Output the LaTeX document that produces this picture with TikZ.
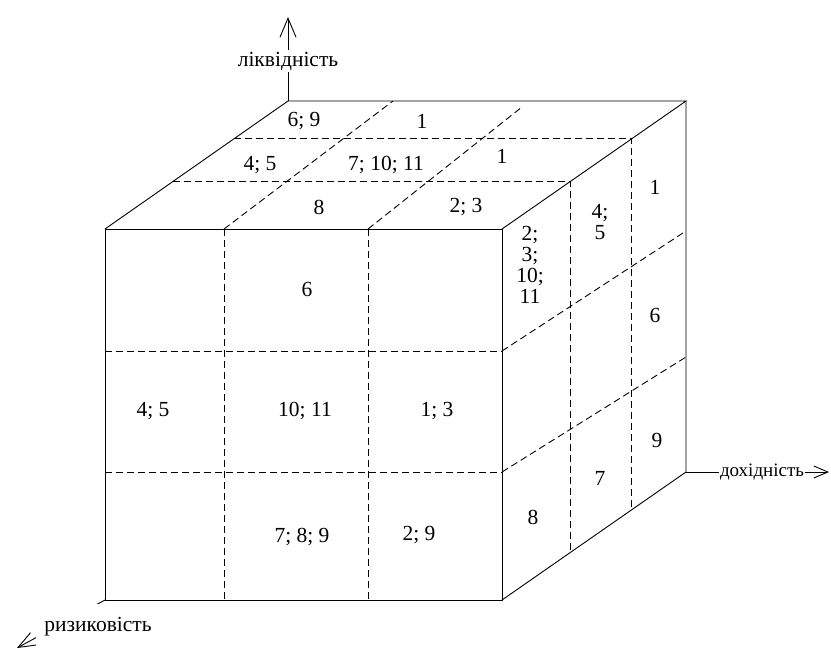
\documentclass[tikz,border=0pt]{standalone}
\usepackage{fontspec}
\setmainfont{Liberation Serif}
\usetikzlibrary{arrows.meta}
\begin{document}
\begin{tikzpicture}[x=1pt,y=-1pt,
  edge/.style={line width=0.9pt},
  gridline/.style={line width=0.9pt, dash pattern=on 7pt off 4pt},
  axis/.style={line width=0.9pt},
  lab/.style={font=\fontsize{21.5}{21}\selectfont, inner sep=0pt, align=center},
  axlab/.style={font=\fontsize{21.5}{23.5}\selectfont, fill=white, inner sep=1.5pt}]
\useasboundingbox (0,0) rectangle (831,651);
% cube corners
\coordinate (A) at (105,229);
\coordinate (B) at (502,229);
\coordinate (C) at (502,600);
\coordinate (D) at (105,600);
\coordinate (E) at (288,101);
\coordinate (F) at (686,101);
\coordinate (G) at (686,472);
% grid points
\coordinate (f1t) at (224,229); \coordinate (f1b) at (224,600);
\coordinate (f2t) at (368,229); \coordinate (f2b) at (368,600);
\coordinate (h1l) at (105,351); \coordinate (h1r) at (502,351);
\coordinate (h2l) at (105,472); \coordinate (h2r) at (502,472);
\coordinate (t1l) at (173,181); \coordinate (r1t) at (570,181); \coordinate (r1b) at (570,552);
\coordinate (t2l) at (234,138); \coordinate (r2t) at (631,138); \coordinate (r2b) at (631,509);
\coordinate (d1e) at (393,101); \coordinate (d2e) at (522,107);
\coordinate (s1e) at (686,231); \coordinate (s2e) at (686,357);
% axes
\coordinate (liqtip) at (288,17);
\coordinate (inctip) at (829,472);
\coordinate (risktip) at (17,648);
\draw[axis,-{Straight Barb[length=19pt,width=16pt]}] (E) -- (liqtip);
\draw[axis,-{Straight Barb[length=14pt,width=12pt]}] (G) -- (inctip);
\draw[axis,-{Straight Barb[length=18pt,width=14pt]}] (D) -- (risktip);
\node[axlab] (liq) at (288,61) {ліквідність};
\node[axlab, font=\fontsize{19}{21}\selectfont] (inc) at (762,472) {дохідність};
\node[axlab, minimum height=46pt, minimum width=125pt] (risk) at (98,627) {ризиковість};
% cube edges
\draw[edge] (A) -- (B) -- (C) -- (D) -- cycle;
\draw[edge] (A) -- (E) -- (F) -- (B);
\draw[edge] (F) -- (G) -- (C);
% dashed grid
\draw[gridline] (f1t) -- (f1b);
\draw[gridline] (f2t) -- (f2b);
\draw[gridline] (h1l) -- (h1r);
\draw[gridline] (h2l) -- (h2r);
\draw[gridline] (t1l) -- (r1t) -- (r1b);
\draw[gridline] (t2l) -- (r2t) -- (r2b);
\draw[gridline] (f1t) -- (d1e);
\draw[gridline] (f2t) -- (d2e);
\draw[gridline] (h1r) -- (s1e);
\draw[gridline] (h2r) -- (s2e);
% front face labels
\node[lab] (c1) at (307,289) {6};
\node[lab] (c2) at (153,411) {4; 5};
\node[lab] (c3) at (305,411) {10; 11};
\node[lab] (c4) at (437,411) {1; 3};
\node[lab] (c5) at (302,537) {7; 8; 9};
\node[lab] (c6) at (419,535) {2; 9};
% top face labels
\node[lab] (t1) at (304,121) {6; 9};
\node[lab] (t2) at (422,121) {1};
\node[lab] (t3) at (260,165) {4; 5};
\node[lab] (t4) at (386,165) {7; 10; 11};
\node[lab] (t5) at (502,156) {1};
\node[lab] (t6) at (319,207) {8};
\node[lab] (t7) at (466,207) {2; 3};
% right face labels
\node[lab] (s1) at (530,265) {2;\\3;\\10;\\11};
\node[lab] (s2) at (600,222) {4;\\5};
\node[lab] (s3) at (655,187) {1};
\node[lab] (s4) at (655,315) {6};
\node[lab] (s5) at (657,440) {9};
\node[lab] (s6) at (600,478) {7};
\node[lab] (s7) at (533,517) {8};
\end{tikzpicture}
\end{document}
